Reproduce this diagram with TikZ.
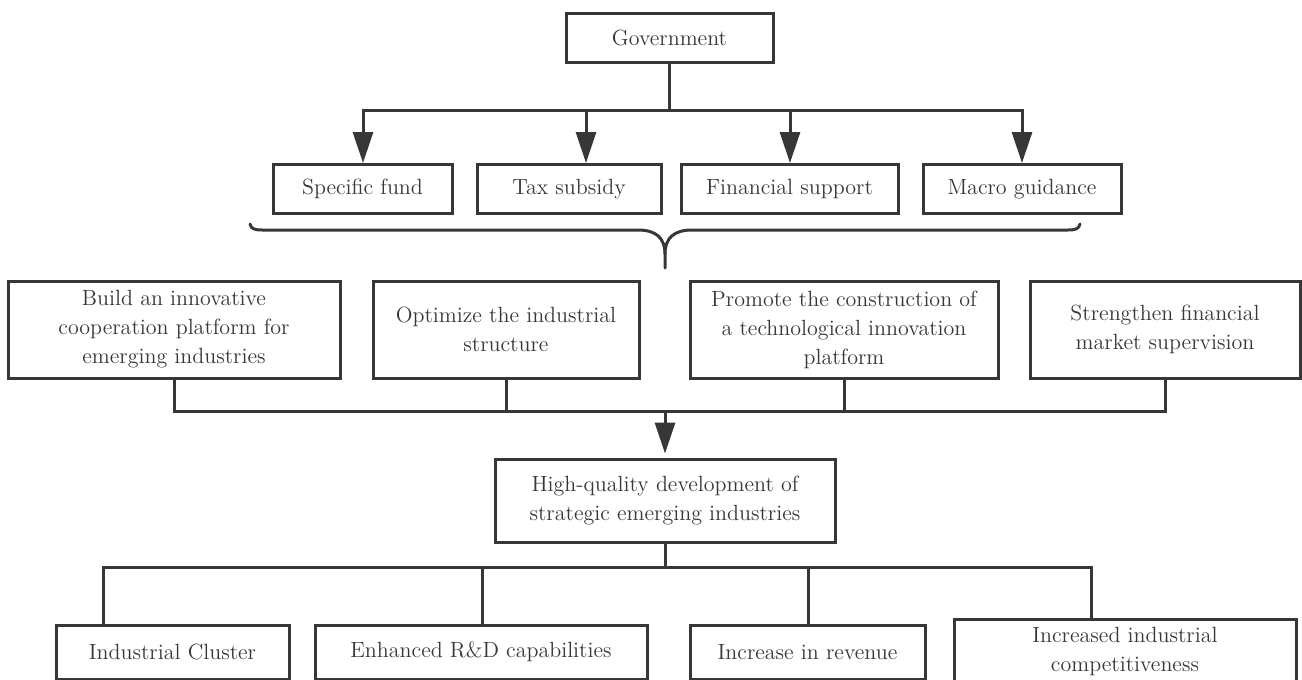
\documentclass[tikz,border=0pt]{standalone}
\usepackage{tikz}
\usetikzlibrary{arrows.meta, positioning, calc}
\definecolor{linegray}{RGB}{55, 55, 55}
\definecolor{textgray}{RGB}{55, 55, 55}

\begin{document}
\begin{tikzpicture}[x=0.5pt, y=-0.5pt,
    box/.style={draw=linegray, line width=1.5pt, text=textgray, align=center,
                inner sep=0pt, font=\fontsize{11}{14.5}\selectfont},
    conn/.style={draw=linegray, line width=1.5pt},
    arr/.style={conn, -{Triangle[length=15.5pt, width=10pt]}}]
  \useasboundingbox (0,0) rectangle (1302,680);

  % top level
  \node[box, minimum width=103.5pt, minimum height=24.5pt] (gov) at (669.5,37.5) {Government};

  % policy tools
  \node[box, minimum width=89.5pt,  minimum height=24.5pt] (fund)  at (362.5,189) {Specific fund};
  \node[box, minimum width=92pt,    minimum height=24.5pt] (tax)   at (569,189)   {Tax subsidy};
  \node[box, minimum width=108.5pt, minimum height=24.5pt] (fin)   at (789.5,189) {Financial support};
  \node[box, minimum width=99pt,    minimum height=24.5pt] (macro) at (1022,189)  {Macro guidance};

  \coordinate (split) at (669.5,110);
  \draw[conn] (gov.south) -- (split);
  \draw[arr] (split) -| ([xshift=0.25pt]fund.north);
  \draw[arr] (split) -| ([xshift=8.5pt]tax.north);
  \draw[arr] (split) -| ([xshift=0.25pt]fin.north);
  \draw[arr] (split) -| (macro.north);

  % brace
  \draw[conn, line cap=round]
    (250,224) .. controls (251,229) and (255,230) .. (262,230) -- (638,230)
    .. controls (656,230) and (665,238) .. (665,254) -- (665,268);
  \draw[conn, line cap=round]
    (1080,224) .. controls (1079,229) and (1075,230) .. (1068,230) -- (692,230)
    .. controls (674,230) and (665,238) .. (665,254);

  % measures
  \node[box, minimum width=166pt, minimum height=48.5pt] (build) at (174,329.5)
    {Build an innovative\\cooperation platform for\\emerging industries};
  \node[box, minimum width=133pt, minimum height=48.5pt] (opt) at (506,329.5)
    {Optimize the industrial\\structure};
  \node[box, minimum width=154pt, minimum height=48.5pt] (prom) at (844,329.5)
    {Promote the construction of\\a technological innovation\\platform};
  \node[box, minimum width=135pt, minimum height=48.5pt] (str) at (1165,329.5)
    {Strengthen financial\\market supervision};

  % goal
  \node[box, minimum width=170pt, minimum height=41.5pt] (hq) at (665,500.5)
    {High-quality development of\\strategic emerging industries};

  \coordinate (merge) at (665,411);
  \foreach \n in {build, opt, prom, str}
    \draw[conn] (\n.south) |- (merge);
  \draw[arr, shorten >=2pt] (merge) -- (hq.north);

  % effects
  \node[box, minimum width=116.5pt, minimum height=27pt] (clus) at (172.5,652) {Industrial Cluster};
  \node[box, minimum width=166pt,   minimum height=27pt] (rd)   at (481,652)   {Enhanced R\&D capabilities};
  \node[box, minimum width=117.5pt, minimum height=27pt] (rev)  at (807.5,652) {Increase in revenue};
  \node[box, minimum width=171pt,   minimum height=32pt] (comp) at (1125,651)
    {Increased industrial\\competitiveness};

  \coordinate (lowbar) at (665,567);
  \draw[conn] (hq.south) -- (lowbar);
  \draw[conn] (lowbar) -| ([xshift=-34.75pt]clus.north);
  \draw[conn] (lowbar) -| ([xshift=0.5pt]rd.north);
  \draw[conn] (lowbar) -| ([xshift=0.25pt]rev.north);
  \draw[conn] (lowbar) -| ([xshift=-17pt]comp.north);
\end{tikzpicture}
\end{document}
